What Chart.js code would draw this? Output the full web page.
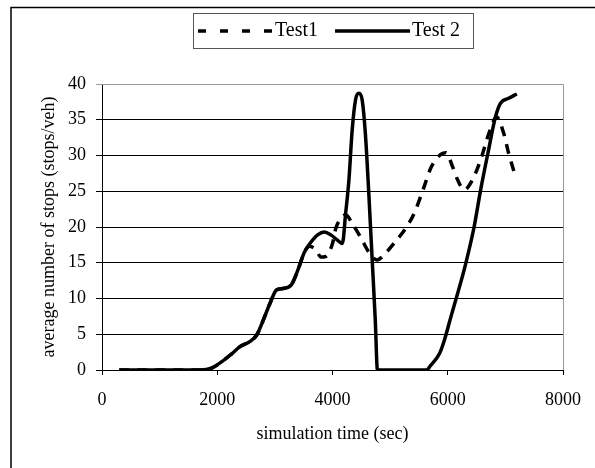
<!DOCTYPE html>
<html>
<head>
<meta charset="utf-8">
<script src="https://cdn.jsdelivr.net/npm/chart.js@4/dist/chart.umd.min.js"></script>
<style>
  html, body { margin: 0; padding: 0; background: #fff; }
  #wrap { width: 595px; height: 468px; }
</style>
</head>
<body>
<div id="wrap"><canvas id="stopsChart" width="595" height="468"></canvas></div>
<script>
// Data (simulation time in sec, stops per vehicle)
const seriesNames = ["Test1", "Test 2"];

const test1Time = [300, 1000, 1700, 1900, 2085, 2256, 2400, 2570, 2685, 2800, 2914, 3028, 3142, 3285, 3400, 3514, 3600, 3714, 3800, 3885, 4000, 4057, 4171, 4228, 4342, 4485, 4628, 4771, 4914, 5085, 5285, 5428, 5571, 5714, 5885, 5971, 6085, 6171, 6285, 6428, 6571, 6714, 6850, 6971, 7057, 7170];
const test1Stops = [0, 0, 0, 0.25, 1.2, 2.3, 3.3, 4.0, 4.9, 7.0, 9.3, 11.2, 11.4, 11.9, 14.0, 16.5, 17.3, 16.8, 15.8, 15.9, 17.7, 19.8, 21.4, 21.7, 20.5, 18.6, 16.5, 15.4, 16.3, 17.9, 20.0, 22.1, 25.2, 28.4, 30.2, 30.4, 28.4, 26.6, 25.2, 26.6, 29.4, 33.1, 35.4, 33.1, 30.3, 27.2];

const test2Time = [300, 1000, 1700, 1900, 2085, 2256, 2400, 2570, 2685, 2800, 2914, 3028, 3142, 3285, 3400, 3514, 3628, 3742, 3857, 3971, 4080, 4171, 4228, 4285, 4342, 4400, 4457, 4514, 4571, 4628, 4685, 4742, 4780, 5000, 5300, 5630, 5700, 5857, 5943, 6057, 6171, 6300, 6457, 6571, 6714, 6828, 6914, 7057, 7200];
const test2Stops = [0, 0, 0, 0.25, 1.2, 2.3, 3.3, 4.0, 4.9, 7.0, 9.3, 11.2, 11.4, 11.9, 14.0, 16.5, 17.9, 18.9, 19.3, 18.9, 18.2, 17.7, 21.9, 26.6, 33.6, 37.8, 38.7, 37.8, 33, 25, 16, 7, 0, 0, 0, 0, 0.6, 2.3, 4.2, 7.5, 10.7, 14.5, 20, 25.2, 31, 35.4, 37.3, 38.0, 38.6];

const xTicks = [0, 2000, 4000, 6000, 8000];
const yTicks = [0, 5, 10, 15, 20, 25, 30, 35, 40];

const toPoints = (xs, ys) => xs.map((x, i) => ({ x: x, y: ys[i] }));

Chart.defaults.font.family = '"Liberation Serif", "Times New Roman", serif';
Chart.defaults.font.size = 18;
Chart.defaults.color = "#000";

// Frame, plot border and legend box (legend drawn by hand so it can sit off-centre)
const framePlugin = {
  id: "frame",
  afterDraw(chart) {
    const ctx = chart.ctx;
    const area = chart.chartArea;
    ctx.save();

    // outer frame (only top and left visible)
    ctx.strokeStyle = "#000";
    ctx.lineWidth = 1.5;
    ctx.beginPath();
    ctx.moveTo(11, 468);
    ctx.lineTo(11, 7.5);
    ctx.lineTo(595, 7.5);
    ctx.stroke();

    // grey plot border on the right
    ctx.strokeStyle = "#999";
    ctx.lineWidth = 1;
    ctx.beginPath();
    ctx.moveTo(area.left, area.top + 0.5);
    ctx.lineTo(area.right + 0.5, area.top + 0.5);
    ctx.lineTo(area.right + 0.5, area.bottom);
    ctx.stroke();

    // legend
    ctx.font = '20px "Liberation Serif", "Times New Roman", serif';
    ctx.textBaseline = "middle";
    ctx.fillStyle = "#000";
    const y = 31;
    let x = 198;
    chart.data.datasets.forEach((ds, i) => {
      ctx.strokeStyle = "#000";
      ctx.lineWidth = ds.borderWidth;
      ctx.setLineDash(i === 0 ? [8, 14] : []);
      ctx.beginPath();
      ctx.moveTo(x, y);
      ctx.lineTo(x + 75, y);
      ctx.stroke();
      ctx.setLineDash([]);
      x += 77;
      ctx.fillText(ds.label, x, y);
      x += ctx.measureText(ds.label).width + 17;
    });
    ctx.strokeStyle = "#555";
    ctx.lineWidth = 1;
    ctx.strokeRect(193.5, 13.5, 280, 35);

    ctx.restore();
  },
};

const ctx = document.getElementById("stopsChart").getContext("2d");
new Chart(ctx, {
  type: "line",
  data: {
    datasets: [
      {
        label: seriesNames[0],
        data: toPoints(test1Time, test1Stops),
        borderColor: "#000",
        borderWidth: 3.5,
        borderDash: [10, 8],
        borderCapStyle: "butt",
        cubicInterpolationMode: "monotone",
        pointRadius: 0,
        fill: false,
      },
      {
        label: seriesNames[1],
        data: toPoints(test2Time, test2Stops),
        borderColor: "#000",
        borderWidth: 3.5,
        cubicInterpolationMode: "monotone",
        pointRadius: 0,
        fill: false,
      },
    ],
  },
  options: {
    responsive: false,
    animation: false,
    devicePixelRatio: 1,
    layout: { padding: { top: 84, right: 28, bottom: 0, left: 0 } },
    plugins: {
      legend: { display: false },
      tooltip: { enabled: false },
    },
    scales: {
      x: {
        type: "linear",
        min: xTicks[0],
        max: xTicks[xTicks.length - 1],
        afterBuildTicks: (s) => { s.ticks = xTicks.map((v) => ({ value: v })); },
        afterFit: (s) => { s.height = 98; },
        ticks: { padding: 14, color: "#000", callback: (v) => String(v) },
        grid: { drawOnChartArea: false, tickLength: 5, color: "#000" },
        border: { color: "#000", width: 1 },
        title: {
          display: true,
          text: "simulation time (sec)",
          padding: { top: 0, bottom: 23 },
          font: { size: 18 },
        },
      },
      y: {
        min: yTicks[0],
        max: yTicks[yTicks.length - 1],
        afterBuildTicks: (s) => { s.ticks = yTicks.map((v) => ({ value: v })); },
        afterFit: (s) => { s.width = 102; },
        ticks: { padding: 10, color: "#000", callback: (v) => String(v) },
        grid: {
          tickLength: 6,
          color: (c) => (c.tick && c.tick.value === 40 ? "#999" : "#000"),
          lineWidth: 1,
        },
        border: { color: "#000", width: 1 },
        title: {
          display: true,
          text: "average number of stops (stops/veh)",
          padding: { top: 38, bottom: 0 },
          font: { size: 18 },
        },
      },
    },
  },
  plugins: [framePlugin],
});
</script>
</body>
</html>
